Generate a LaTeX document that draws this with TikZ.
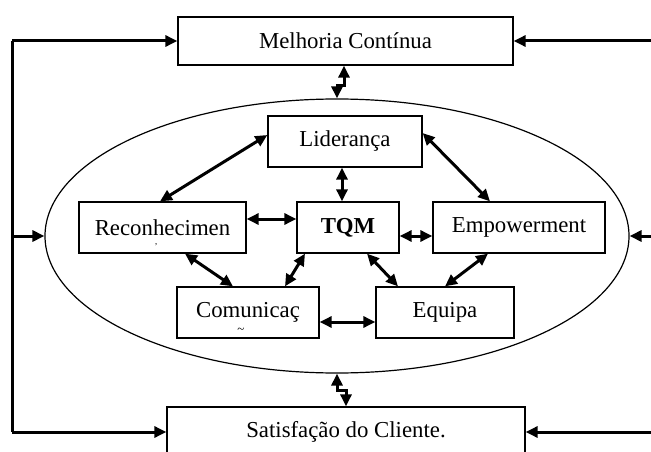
\documentclass[tikz,border=0pt]{standalone}
\usepackage{fontspec}
\setmainfont{Liberation Serif}
\usetikzlibrary{arrows.meta,shapes.geometric}

\begin{document}
\begin{tikzpicture}[x=1pt,y=-1pt,
    box/.style={draw,line width=1.3pt,inner sep=0pt,
      font=\fontsize{22.8}{26}\selectfont},
    link/.style={line width=3pt,{Triangle[length=12pt,width=11pt]}-{Triangle[length=12pt,width=11pt]}},
    feed/.style={line width=3pt,-{Triangle[length=12pt,width=11pt]}}]
    \clip (0,0) rectangle (651,452);

    % Outer loop boxes and the ellipse
    \node[draw,ellipse,line width=1.2pt,minimum width=584pt,minimum height=274pt] (ell) at (337,236) {};
    \node[box,minimum width=335pt,minimum height=48pt] (mel) at (345.5,41) {Melhoria Contínua};
    \node[box,minimum width=358pt,minimum height=50pt] (sat) at (346,432) {Satisfação do Cliente.};

    % Inner boxes
    \node[box,minimum width=154pt,minimum height=51pt] (lid) at (345,141.5) {Liderança};
    \node[box,minimum width=167pt,minimum height=51pt] (rec) at (162.5,227.5) {Reconhecimen};
    \node[box,minimum width=102pt,minimum height=51pt,font=\fontsize{22.8}{26}\selectfont\bfseries] (tqm) at (348,227.5) {TQM};
    \node[box,minimum width=172pt,minimum height=51pt] (emp) at (519,227.5) {Empowerment};
    \node[box,minimum width=142pt,minimum height=51pt] (com) at (248,312.5) {Comunicaç};
    \node[box,minimum width=138pt,minimum height=51pt] (equ) at (445,312.5) {Equipa};
    \node[font=\fontsize{9}{9}\selectfont,inner sep=0pt] (recmark) at (156,247) {'};
    \node[font=\fontsize{13}{13}\selectfont,inner sep=0pt] (commark) at (241,331) {\char`~};

    % Links between the inner boxes
    \draw[link] ([yshift=6.5pt]lid.west) -- ([xshift=-2.5pt]rec.north);
    \draw[link] ([yshift=8.5pt]lid.east) -- ([xshift=-29pt]emp.north);
    \draw[link] ([xshift=-3pt]lid.south) -- ([xshift=-6pt]tqm.north);
    \draw[link] ([yshift=8.5pt]rec.east) -- ([yshift=8.5pt]tqm.west);
    \draw[link] ([yshift=-8.5pt]tqm.east) -- ([yshift=-8.5pt]emp.west);
    \draw[link] ([xshift=22.5pt]rec.south) -- ([xshift=-15pt]com.north);
    \draw[link] ([xshift=-43pt]tqm.south) -- ([xshift=37pt]com.north);
    \draw[link] ([xshift=19pt]tqm.south) -- ([xshift=-47pt]equ.north);
    \draw[link] ([xshift=-31pt]emp.south) -- (equ.north);
    \draw[link] ([yshift=-9.5pt]com.east) -- ([yshift=-9.5pt]equ.west);

    % Zigzag links to the ellipse
    \draw[link] ([xshift=-1.5pt]mel.south) -- ++(0,20) -| (ell.north);
    \draw[link] (ell.south) -- ++(0,17) -| (sat.north);

    % Feedback lines
    \coordinate (lft) at (12,41);
    \coordinate (lfb) at (12,432);
    \coordinate (rgt) at (660,41);
    \coordinate (rgb) at (660,432);
    \draw[line width=3pt] (lft) -- (lfb);
    \draw[feed] (lft) -- (mel.west);
    \draw[feed] (ell.west -| lft) -- (ell.west);
    \draw[feed] (lfb) -- (sat.west);
    \draw[feed] (rgt) -- (mel.east);
    \draw[feed] (ell.east -| rgt) -- (ell.east);
    \draw[feed] (rgb) -- (sat.east);
\end{tikzpicture}
\end{document}
